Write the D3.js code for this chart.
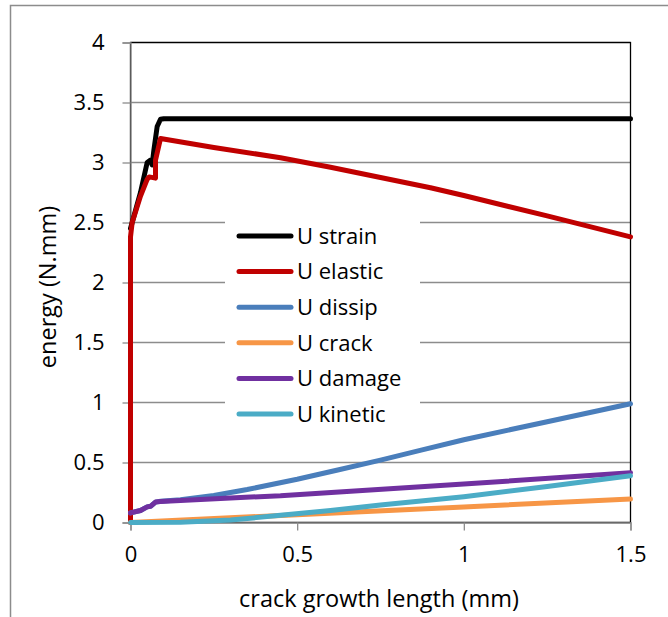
<!DOCTYPE html>
<html>
<head>
<meta charset="utf-8">
<script src="https://cdn.jsdelivr.net/npm/d3@7"></script>
<style>
  body { margin: 0; background: #fff; }
  svg { display: block; }
  text { font-family: "Open Sans", "Noto Sans", sans-serif; fill: #000; }
</style>
</head>
<body>
<svg id="chart" width="668" height="617"></svg>
<script>
// Axis ticks
const xTicks = [0, 0.5, 1, 1.5];
const yTicks = [0, 0.5, 1, 1.5, 2, 2.5, 3, 3.5, 4];

// Series names and colours (legend order)
const seriesNames = ["U strain", "U elastic", "U dissip", "U crack", "U damage", "U kinetic"];
const seriesColors = ["#000000", "#C00000", "#4A7EBB", "#F79646", "#7030A0", "#4BACC6"];

// Energy curves: crack growth length (mm) vs energy (N.mm)
const strainX  = [0, 0.03, 0.05, 0.06, 0.065, 0.07, 0.08, 0.09, 0.1, 1.5];
const strainY  = [2.45, 2.75, 3.0, 3.02, 2.98, 3.1, 3.3, 3.36, 3.365, 3.365];

const elasticX = [0, 0, 0.005, 0.03, 0.05, 0.056, 0.075, 0.075, 0.09, 0.25, 0.45, 0.6, 0.75, 0.9, 1.0, 1.25, 1.5];
const elasticY = [0, 2.38, 2.5, 2.72, 2.86, 2.88, 2.87, 3.02, 3.2, 3.125, 3.04, 2.96, 2.875, 2.79, 2.725, 2.555, 2.38];

const dissipX  = [0, 0.03, 0.05, 0.06, 0.075, 0.09, 0.15, 0.25, 0.35, 0.5, 0.625, 0.75, 0.875, 1.0, 1.25, 1.5];
const dissipY  = [0.08, 0.1, 0.13, 0.135, 0.17, 0.177, 0.19, 0.225, 0.275, 0.36, 0.44, 0.52, 0.605, 0.69, 0.84, 0.99];

const crackX   = [0, 0.5, 1.0, 1.5];
const crackY   = [0, 0.065, 0.13, 0.195];

const damageX  = [0, 0.03, 0.05, 0.06, 0.075, 0.09, 0.345, 0.45, 1.0, 1.5];
const damageY  = [0.08, 0.1, 0.13, 0.135, 0.17, 0.175, 0.21, 0.222, 0.32, 0.415];

const kineticX = [0, 0.15, 0.3, 0.45, 0.6, 0.75, 1.0, 1.25, 1.5];
const kineticY = [0, 0.003, 0.02, 0.06, 0.1, 0.145, 0.215, 0.3, 0.39];

const seriesX = [strainX, elasticX, dissipX, crackX, damageX, kineticX];
const seriesY = [strainY, elasticY, dissipY, crackY, damageY, kineticY];

const svg = d3.select("#chart");

// Chart-area frame
svg.append("path")
  .attr("d", "M10.5,617 V5.5 H668")
  .attr("fill", "none")
  .attr("stroke", "#8c8c8c")
  .attr("stroke-width", 1.5);

const x = d3.scaleLinear().domain([0, 1.5]).range([130.5, 630.5]);
const y = d3.scaleLinear().domain([0, 4]).range([522.5, 42.5]);

const gridColor = "#8c8c8c";

// Horizontal gridlines
svg.append("g")
  .selectAll("line")
  .data(yTicks)
  .join("line")
  .attr("x1", x(0)).attr("x2", x(1.5))
  .attr("y1", d => y(d)).attr("y2", d => y(d))
  .attr("stroke", gridColor)
  .attr("stroke-width", 1.3);

// Plot-area border
svg.append("rect")
  .attr("x", x(0)).attr("y", y(4))
  .attr("width", x(1.5) - x(0)).attr("height", y(0) - y(4))
  .attr("fill", "none")
  .attr("stroke", "#000")
  .attr("stroke-width", 1.3);

// Axes
const yAxis = d3.axisLeft(y).tickValues(yTicks).tickSize(8).tickPadding(18)
  .tickFormat(d3.format("~g"));
const xAxis = d3.axisBottom(x).tickValues(xTicks).tickSize(8).tickPadding(16)
  .tickFormat(d3.format("~g"));

const gy = svg.append("g").attr("transform", `translate(${x(0)},0)`).call(yAxis);
const gx = svg.append("g").attr("transform", `translate(0,${y(0)})`).call(xAxis);

[gx, gy].forEach(g => {
  g.select(".domain").attr("stroke", gridColor).attr("stroke-width", 1.3);
  g.selectAll(".tick line").attr("stroke", gridColor).attr("stroke-width", 1.3);
  g.selectAll(".tick text")
    .attr("font-family", "\"Open Sans\", sans-serif")
    .attr("font-size", 22)
    .attr("fill", "#000");
});

// Legend box (white background hides gridlines behind it)
const legendX = 225, legendY = 218, legendRow = 35.6;
svg.append("rect")
  .attr("x", legendX).attr("y", legendY)
  .attr("width", 195).attr("height", 216)
  .attr("fill", "#fff");

// Series lines
const line = d3.line().x(d => x(d[0])).y(d => y(d[1]));
seriesNames.forEach((name, i) => {
  const pts = seriesX[i].map((v, j) => [v, seriesY[i][j]]);
  svg.append("path")
    .datum(pts)
    .attr("d", line)
    .attr("fill", "none")
    .attr("stroke", seriesColors[i])
    .attr("stroke-width", 5)
    .attr("stroke-linejoin", "round")
    .attr("stroke-linecap", "round");
});

// Legend entries
const lg = svg.append("g");
seriesNames.forEach((name, i) => {
  const cy = 236 + i * legendRow;
  lg.append("line")
    .attr("x1", 239).attr("x2", 291)
    .attr("y1", cy).attr("y2", cy)
    .attr("stroke", seriesColors[i])
    .attr("stroke-width", 5)
    .attr("stroke-linecap", "round");
  lg.append("text")
    .attr("x", 297).attr("y", cy)
    .attr("dy", "0.35em")
    .attr("font-size", 22)
    .text(name);
});

// Axis titles
svg.append("text")
  .attr("x", 379).attr("y", 599)
  .attr("text-anchor", "middle")
  .attr("dy", "0.35em")
  .attr("font-size", 23.5)
  .text("crack growth length (mm)");

svg.append("text")
  .attr("transform", "translate(48,287) rotate(-90)")
  .attr("text-anchor", "middle")
  .attr("dy", "0.35em")
  .attr("font-size", 23.5)
  .text("energy (N.mm)");
</script>
</body>
</html>
